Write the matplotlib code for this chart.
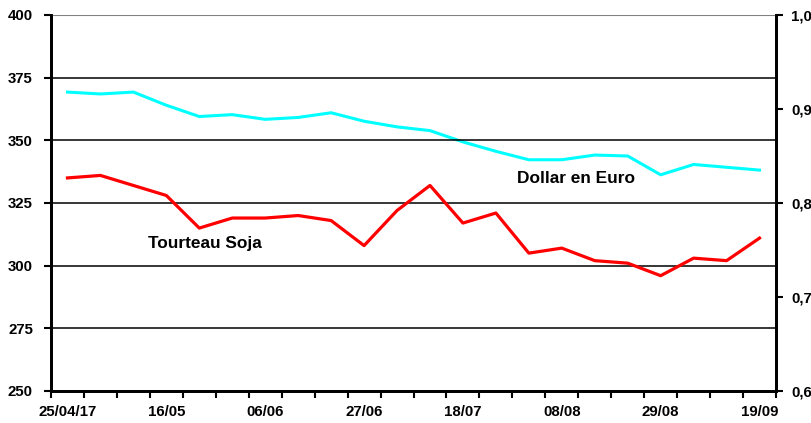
import matplotlib
matplotlib.use("Agg")
import matplotlib.pyplot as plt
from matplotlib.ticker import FixedLocator, FuncFormatter

plt.rcParams['font.family'] = ['Liberation Sans', 'DejaVu Sans']

weeks = ["25/04/17", "02/05", "09/05", "16/05", "23/05", "30/05", "06/06", "13/06",
         "20/06", "27/06", "04/07", "11/07", "18/07", "25/07", "01/08", "08/08",
         "15/08", "22/08", "29/08", "05/09", "12/09", "19/09"]
tourteau_soja = [335, 336, 332, 328, 315, 319, 319, 320, 318, 308, 322, 332,
                 317, 321, 305, 307, 302, 301, 296, 303, 302, 311]
dollar_euro = [0.918, 0.916, 0.918, 0.904, 0.892, 0.894, 0.889, 0.891, 0.896,
               0.887, 0.881, 0.877, 0.865, 0.855, 0.846, 0.846, 0.851, 0.850,
               0.830, 0.841, 0.838, 0.835]
left_ticks = [250, 275, 300, 325, 350, 375, 400]
right_ticks = [0.6, 0.7, 0.8, 0.9, 1.0]
label_every = 3

fig = plt.figure(figsize=(8.12, 4.23), dpi=100)
ax = fig.add_axes([51/812, 32/423, (776-51)/812, (391-15)/423])
ax2 = ax.twinx()

n = len(weeks)
x = list(range(n))

ax.set_xlim(-0.5, n - 0.5)
ax.set_ylim(250, 400)
ax2.set_ylim(0.6, 1.0)

for v in left_ticks[1:-1]:
    ax.axhline(v, color='black', lw=1.1, zorder=1)
ax.axhline(400, color='#808080', lw=1.5, zorder=1)

ax2.plot(x, dollar_euro, color='#00FFFF', lw=2.2, zorder=3)
ax.plot(x, tourteau_soja, color='#FF0000', lw=2.3, zorder=3)
ax.set_zorder(ax2.get_zorder() + 1)
ax.patch.set_visible(False)

ax.set_yticks(left_ticks)
ax2.set_yticks(right_ticks)
ax2.yaxis.set_major_formatter(FuncFormatter(lambda v, p: f"{v:.1f}".replace('.', ',')))

ax.xaxis.set_major_locator(FixedLocator([i - 0.5 for i in range(n + 1)]))
ax.xaxis.set_major_formatter(FuncFormatter(lambda v, p: ""))
lab_pos = list(range(0, n, label_every))
ax.xaxis.set_minor_locator(FixedLocator(lab_pos))
ax.xaxis.set_minor_formatter(FuncFormatter(lambda v, p: weeks[int(round(v))]))
ax.tick_params(axis='x', which='minor', length=0, pad=10)
ax.tick_params(axis='x', which='major', length=5, width=1.5, direction='out')

fs = 10.8
ax.tick_params(axis='y', length=5, width=1.5, labelsize=fs, pad=8)
ax2.tick_params(axis='y', length=5, width=1.5, labelsize=fs, pad=6)
ax.tick_params(axis='x', which='minor', labelsize=fs)
for lbl in ax.get_xticklabels(minor=True) + ax.get_yticklabels() + ax2.get_yticklabels():
    lbl.set_fontweight('bold')

for a in (ax, ax2):
    a.spines['top'].set_visible(False)
    for s in ('left', 'right', 'bottom'):
        a.spines[s].set_linewidth(2)
        a.spines[s].set_color('black')

ax.text(2.44, 309, "Tourteau Soja", fontsize=12.4, fontweight='bold', va='center', ha='left')
ax.text(13.65, 334.6, "Dollar en Euro", fontsize=12.4, fontweight='bold', va='center', ha='left')

fig.savefig("out.png", dpi=100)
